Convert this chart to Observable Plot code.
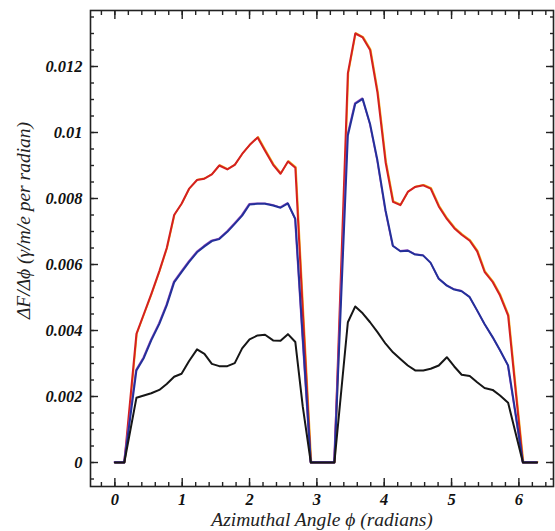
<!DOCTYPE html>
<html>
<head>
<meta charset="utf-8">
<script src="https://cdn.jsdelivr.net/npm/d3@7"></script>
<script src="https://cdn.jsdelivr.net/npm/@observablehq/plot@0.6"></script>
<style>
  html, body { margin: 0; padding: 0; background: #fff; }
</style>
</head>
<body>
<div id="chart"></div>
<script>
// Azimuthal angle (radians) of each vertex
const phi = [0, 0.14, 0.32, 0.43, 0.54, 0.66, 0.77, 0.88, 0.99, 1.10, 1.22, 1.33, 1.44, 1.55, 1.67, 1.78, 1.89, 2.00, 2.12, 2.23, 2.35, 2.46, 2.57, 2.68, 2.79, 2.91, 3.02, 3.13, 3.26, 3.46, 3.57, 3.68, 3.79, 3.90, 4.02, 4.13, 4.24, 4.35, 4.46, 4.58, 4.69, 4.81, 4.93, 5.04, 5.15, 5.27, 5.38, 5.49, 5.61, 5.72, 5.84, 5.95, 6.06, 6.27];

// ΔF/Δφ values for the three curves
const redValues = [0, 0, 0.0039, 0.0045, 0.0051, 0.0058, 0.0065, 0.0075, 0.00784, 0.00829, 0.00856, 0.0086, 0.00873, 0.009, 0.00888, 0.00902, 0.00935, 0.00962, 0.00985, 0.00945, 0.00902, 0.00875, 0.00912, 0.00893, 0.0046, 0, 0, 0, 0, 0.0118, 0.0130, 0.01288, 0.0125, 0.0112, 0.0091, 0.0079, 0.0078, 0.0082, 0.00835, 0.0084, 0.0083, 0.00776, 0.00738, 0.0071, 0.0069, 0.00672, 0.0064, 0.00578, 0.00547, 0.00506, 0.00445, 0.0022, 0, 0];

const blueValues = [0, 0, 0.00279, 0.00317, 0.0037, 0.0042, 0.00476, 0.00546, 0.00577, 0.00607, 0.00637, 0.00655, 0.00671, 0.00677, 0.00699, 0.00723, 0.00748, 0.00782, 0.00784, 0.00784, 0.00779, 0.00772, 0.00785, 0.00738, 0.0038, 0, 0, 0, 0, 0.00991, 0.01087, 0.01102, 0.01026, 0.00915, 0.00764, 0.00656, 0.0064, 0.00642, 0.0063, 0.00627, 0.00605, 0.00557, 0.00536, 0.00524, 0.00519, 0.00501, 0.00461, 0.0042, 0.0038, 0.0034, 0.00294, 0.0015, 0, 0];

const blackValues = [0, 0, 0.00196, 0.00203, 0.0021, 0.0022, 0.00238, 0.0026, 0.00269, 0.00307, 0.00343, 0.00329, 0.00299, 0.00292, 0.00292, 0.00301, 0.00346, 0.00373, 0.00385, 0.00387, 0.0037, 0.00369, 0.00389, 0.00365, 0.0017, 0, 0, 0, 0, 0.00425, 0.00473, 0.00452, 0.00425, 0.00395, 0.0036, 0.00334, 0.00314, 0.00294, 0.00279, 0.00279, 0.00284, 0.00294, 0.00319, 0.00291, 0.00266, 0.00262, 0.00243, 0.00226, 0.0022, 0.00203, 0.00181, 0.0009, 0, 0];

// Tick values and labels
const xTickValues = [0, 1, 2, 3, 4, 5, 6];
const xTickLabels = ["0", "1", "2", "3", "4", "5", "6"];
const xMinorTicks = d3.range(-1, 33).map(i => +(i * 0.2).toFixed(2));
const yTickValues = [0, 0.002, 0.004, 0.006, 0.008, 0.01, 0.012];
const yTickLabels = ["0", "0.002", "0.004", "0.006", "0.008", "0.01", "0.012"];
const yMinorTicks = d3.range(-1, 28).map(i => +(i * 0.0005).toFixed(4));

const xTitle = "Azimuthal Angle ϕ (radians)";
const yTitle = "ΔF/Δϕ (γ/m/e per radian)";

const rows = phi.map((p, i) => ({phi: p, red: redValues[i], blue: blueValues[i], black: blackValues[i]}));

const serif = "'Liberation Serif', 'Times New Roman', serif";
const tickFont = {fontFamily: serif, fontWeight: "bold", fontStyle: "italic", fontSize: 16.5, fill: "#111"};
const titleFont = {fontFamily: serif, fontStyle: "italic", fontSize: 19.5, fill: "#222", lineAnchor: "middle", textAnchor: "middle"};
const axisStroke = {stroke: "#222", strokeWidth: 1.4};

const chart = Plot.plot({
  width: 555,
  height: 531,
  marginLeft: 90,
  marginRight: 2,
  marginTop: 10,
  marginBottom: 45,
  style: {background: "#fff", fontFamily: serif, overflow: "visible"},
  x: {domain: [-0.362, 6.514]},
  y: {domain: [-0.000727, 0.013697]},
  marks: [
    // inward ticks on all four sides
    Plot.axisX(xMinorTicks, {anchor: "bottom", tickSize: -4, fill: "none", ...axisStroke}),
    Plot.axisX(xTickValues, {anchor: "bottom", tickSize: -8, fill: "none", ...axisStroke}),
    Plot.axisX(xMinorTicks, {anchor: "top", tickSize: -4, fill: "none", ...axisStroke}),
    Plot.axisX(xTickValues, {anchor: "top", tickSize: -8, fill: "none", ...axisStroke}),
    Plot.axisY(yMinorTicks, {anchor: "left", tickSize: -4, fill: "none", ...axisStroke}),
    Plot.axisY(yTickValues, {anchor: "left", tickSize: -8, fill: "none", ...axisStroke}),
    Plot.axisY(yMinorTicks, {anchor: "right", tickSize: -4, fill: "none", ...axisStroke}),
    Plot.axisY(yTickValues, {anchor: "right", tickSize: -8, fill: "none", ...axisStroke}),
    // tick labels
    Plot.axisX(xTickValues, {anchor: "bottom", tickSize: 0, tickPadding: 7, label: null,
      tickFormat: d => xTickLabels[xTickValues.indexOf(d)], ...tickFont}),
    Plot.axisY(yTickValues, {anchor: "left", tickSize: 0, tickPadding: 8, label: null,
      tickFormat: d => yTickLabels[yTickValues.indexOf(d)], ...tickFont}),
    // titles
    Plot.text([xTitle], {frameAnchor: "bottom", dy: 33, ...titleFont}),
    Plot.text([yTitle], {frameAnchor: "left", rotate: -90, dx: -67, dy: -28, ...titleFont}),
    // curves
    Plot.line(rows, {x: "phi", y: "red", stroke: "#f0b020", strokeWidth: 1.6, dx: 0.6, dy: -0.6}),
    Plot.line(rows, {x: "phi", y: "red", stroke: "#d42020", strokeWidth: 2}),
    Plot.line(rows, {x: "phi", y: "blue", stroke: "#9a50c0", strokeWidth: 1.6, dx: -0.5, dy: -0.6}),
    Plot.line(rows, {x: "phi", y: "blue", stroke: "#24309a", strokeWidth: 2}),
    Plot.line(rows, {x: "phi", y: "black", stroke: "#161616", strokeWidth: 2}),
    Plot.frame({stroke: "#222", strokeWidth: 1.6})
  ]
});

document.getElementById("chart").appendChild(chart);
</script>
</body>
</html>
